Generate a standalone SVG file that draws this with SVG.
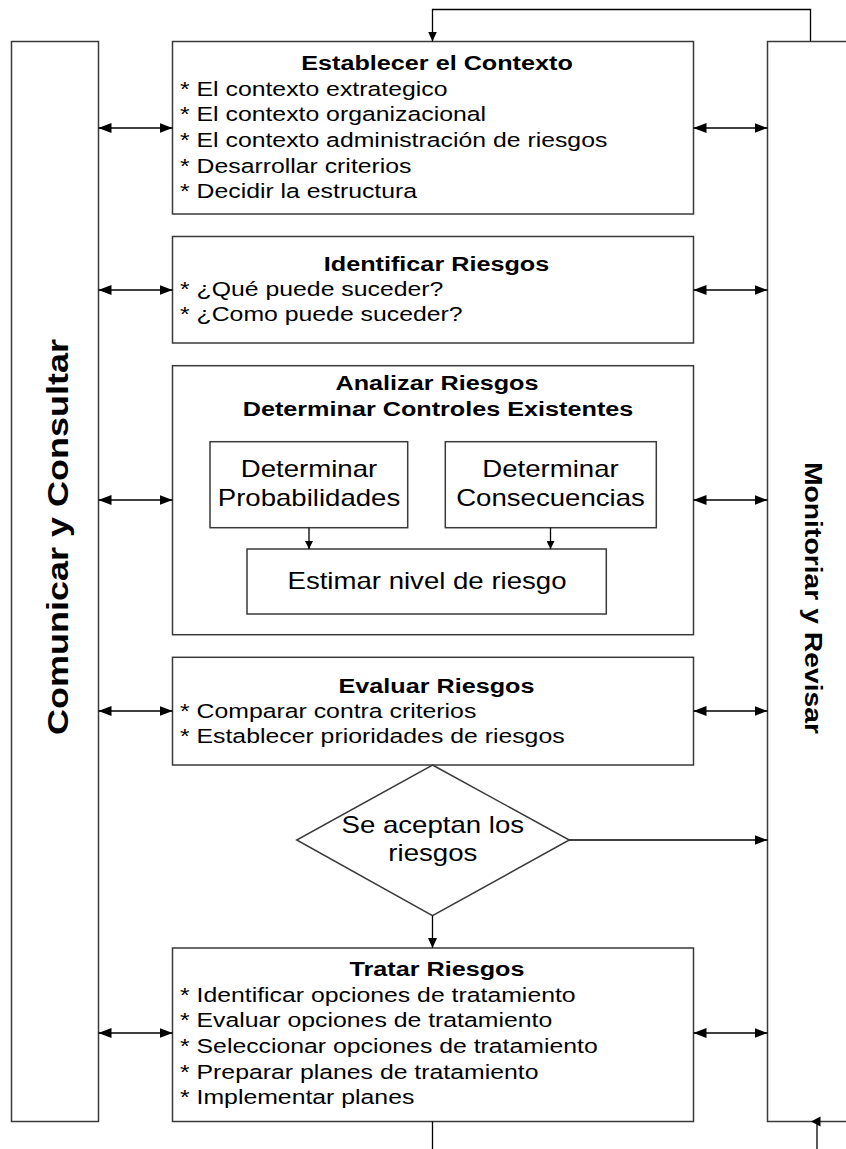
<svg xmlns="http://www.w3.org/2000/svg" width="846" height="1149" viewBox="0 0 846 1149">
<style>
.box{fill:#fff;stroke:#3a3a3a;stroke-width:1.5}
.conn{fill:none;stroke:#000;stroke-width:1.3}
.t{font-family:"Liberation Sans",Arial,sans-serif;fill:#000}
.b{font-size:20.5px}
.h{font-size:21px;font-weight:bold;text-anchor:middle}
.s{font-size:23px;text-anchor:middle}
.v{font-weight:bold;text-anchor:middle}
</style>
<defs>
<marker id="a" viewBox="0 0 13 10" refX="13" refY="5" markerWidth="13" markerHeight="10" markerUnits="userSpaceOnUse" orient="auto-start-reverse"><path d="M0,0L13,5L0,10z" fill="#000"/></marker>
<marker id="m" viewBox="0 0 10 9" refX="10" refY="4.5" markerWidth="10" markerHeight="9" markerUnits="userSpaceOnUse" orient="auto"><path d="M0,0L10,4.5L0,9z" fill="#000"/></marker>
<marker id="sm" viewBox="0 0 8 8" refX="8" refY="4" markerWidth="8" markerHeight="8" markerUnits="userSpaceOnUse" orient="auto"><path d="M0,0L8,4L0,8z" fill="#000"/></marker>
</defs>
<rect width="846" height="1149" fill="#fff"/>

<g id="comunicar">
<rect class="box" x="11.5" y="41.5" width="87" height="1080"/>
<text class="t v" style="font-size:30px" transform="translate(68,537) rotate(-90) scale(1.2,1)">Comunicar y Consultar</text>
</g>

<g id="monitorear">
<rect class="box" x="767.5" y="41.5" width="100" height="1080"/>
<text class="t v" style="font-size:24px" transform="translate(805,598) rotate(90) scale(1.18,1)">Monitoriar y Revisar</text>
</g>

<g id="establecer">
<rect class="box" x="172.5" y="41.5" width="521" height="172.5"/>
<text class="t h" transform="translate(437,70) scale(1.2,1)">Establecer el Contexto</text>
<text class="t b" transform="translate(180,95.5) scale(1.21,1)">
<tspan x="0" y="0">* El contexto extrategico</tspan>
<tspan x="0" y="25.7">* El contexto organizacional</tspan>
<tspan x="0" y="51.4">* El contexto administración de riesgos</tspan>
<tspan x="0" y="77.1">* Desarrollar criterios</tspan>
<tspan x="0" y="102.8">* Decidir la estructura</tspan>
</text>
</g>

<g id="identificar">
<rect class="box" x="172.5" y="236.5" width="521" height="106.5"/>
<text class="t h" transform="translate(436.5,271) scale(1.2,1)">Identificar Riesgos</text>
<text class="t b" transform="translate(180,296) scale(1.21,1)">
<tspan x="0" y="0">* ¿Qué puede suceder?</tspan>
<tspan x="0" y="25.5">* ¿Como puede suceder?</tspan>
</text>
</g>

<g id="analizar">
<rect class="box" x="172.5" y="365.7" width="521" height="269"/>
<text class="t h" transform="translate(437,390) scale(1.2,1)">Analizar Riesgos</text>
<text class="t h" transform="translate(438,416) scale(1.2,1)">Determinar Controles Existentes</text>
</g>

<g id="probabilidades">
<rect class="box" x="210" y="441.7" width="197.7" height="86"/>
<text class="t s" transform="translate(309,477) scale(1.2,1)">Determinar</text>
<text class="t s" transform="translate(309,505.5) scale(1.2,1)">Probabilidades</text>
</g>

<g id="consecuencias">
<rect class="box" x="445.3" y="441.7" width="211" height="86"/>
<text class="t s" transform="translate(550.5,477) scale(1.2,1)">Determinar</text>
<text class="t s" transform="translate(550.5,505.5) scale(1.2,1)">Consecuencias</text>
</g>

<g id="estimar">
<rect class="box" x="247" y="549" width="359.3" height="65"/>
<text class="t s" transform="translate(427,589) scale(1.2,1)">Estimar nivel de riesgo</text>
</g>

<g id="evaluar">
<rect class="box" x="172.5" y="657.3" width="521" height="107.7"/>
<text class="t h" transform="translate(436.5,693) scale(1.2,1)">Evaluar Riesgos</text>
<text class="t b" transform="translate(180,717.5) scale(1.21,1)">
<tspan x="0" y="0">* Comparar contra criterios</tspan>
<tspan x="0" y="25.2">* Establecer prioridades de riesgos</tspan>
</text>
</g>

<g id="aceptan">
<polygon class="box" points="432.5,765 569.3,840 432.5,915.7 296.7,840"/>
<text class="t s" transform="translate(432.8,832.7) scale(1.2,1)">Se aceptan los</text>
<text class="t s" transform="translate(432.8,861) scale(1.2,1)">riesgos</text>
</g>

<g id="tratar">
<rect class="box" x="172.5" y="948" width="521" height="173.5"/>
<text class="t h" transform="translate(437,976) scale(1.2,1)">Tratar Riesgos</text>
<text class="t b" transform="translate(180,1001.5) scale(1.21,1)">
<tspan x="0" y="0">* Identificar opciones de tratamiento</tspan>
<tspan x="0" y="25.7">* Evaluar opciones de tratamiento</tspan>
<tspan x="0" y="51.4">* Seleccionar opciones de tratamiento</tspan>
<tspan x="0" y="77.1">* Preparar planes de tratamiento</tspan>
<tspan x="0" y="102.8">* Implementar planes</tspan>
</text>
</g>

<g id="connectors">
<line class="conn" x1="98.5" y1="128" x2="172.5" y2="128" marker-start="url(#a)" marker-end="url(#a)"/>
<line class="conn" x1="693.5" y1="128" x2="767.5" y2="128" marker-start="url(#a)" marker-end="url(#a)"/>
<line class="conn" x1="98.5" y1="290" x2="172.5" y2="290" marker-start="url(#a)" marker-end="url(#a)"/>
<line class="conn" x1="693.5" y1="290" x2="767.5" y2="290" marker-start="url(#a)" marker-end="url(#a)"/>
<line class="conn" x1="98.5" y1="500" x2="172.5" y2="500" marker-start="url(#a)" marker-end="url(#a)"/>
<line class="conn" x1="693.5" y1="500" x2="767.5" y2="500" marker-start="url(#a)" marker-end="url(#a)"/>
<line class="conn" x1="98.5" y1="711" x2="172.5" y2="711" marker-start="url(#a)" marker-end="url(#a)"/>
<line class="conn" x1="693.5" y1="711" x2="767.5" y2="711" marker-start="url(#a)" marker-end="url(#a)"/>
<line class="conn" x1="98.5" y1="1033" x2="172.5" y2="1033" marker-start="url(#a)" marker-end="url(#a)"/>
<line class="conn" x1="693.5" y1="1033" x2="767.5" y2="1033" marker-start="url(#a)" marker-end="url(#a)"/>
<path class="conn" d="M810.5,41.5V9.5H432.5V41.5" marker-end="url(#m)"/>
<line class="conn" x1="309" y1="527.7" x2="309" y2="549" marker-end="url(#sm)"/>
<line class="conn" x1="550.5" y1="527.7" x2="550.5" y2="549" marker-end="url(#sm)"/>
<line class="conn" x1="569.3" y1="840" x2="767.5" y2="840" marker-end="url(#a)"/>
<line class="conn" x1="432.5" y1="915.7" x2="432.5" y2="948" marker-end="url(#m)"/>
<line class="conn" x1="432.5" y1="1121.5" x2="432.5" y2="1149"/>
<line class="conn" x1="817" y1="1149" x2="817" y2="1124"/>
<polygon points="811,1121.5 820.5,1116.5 820.5,1126.5" fill="#000"/>
</g>
</svg>
